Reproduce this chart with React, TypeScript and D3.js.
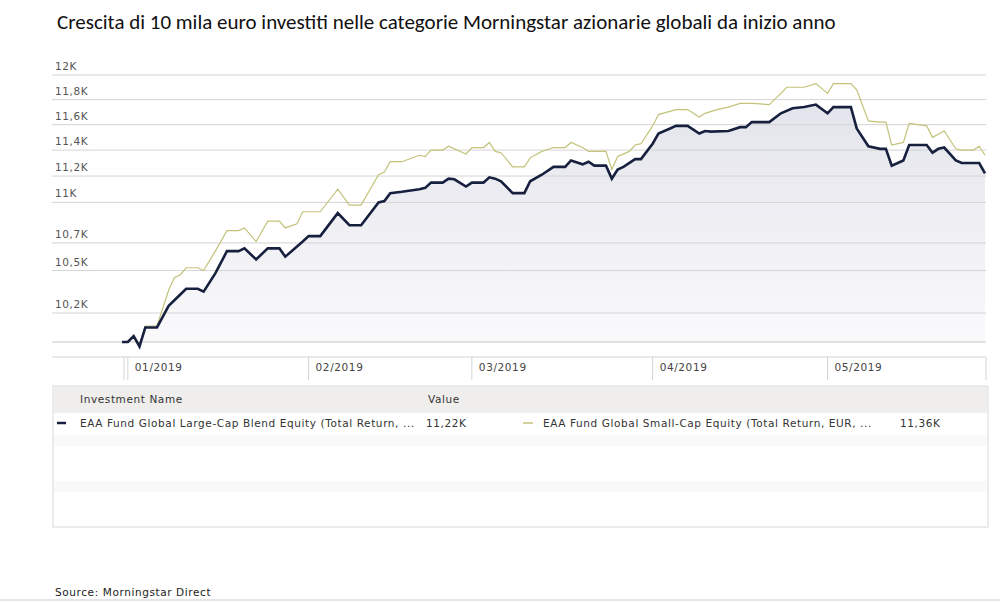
import React from 'react';
import * as d3 from 'd3';

// days since 2019-01-01
const largeDays = [-1, 0, 1, 2, 3, 5, 7, 9, 10, 12, 13, 15, 17, 19, 20, 22, 24, 26, 27, 30, 31, 33, 36, 38, 40, 43, 44, 45, 47, 50, 51, 52, 54, 55, 56, 58, 59, 61, 62, 63, 64, 66, 68, 69, 71, 73, 75, 76, 78, 79, 80, 82, 83, 84, 85, 87, 88, 90, 91, 93, 94, 96, 98, 99, 100, 103, 105, 106, 107, 110, 112, 114, 116, 118, 120, 121, 124, 125, 127, 129, 130, 131, 133, 134, 137, 138, 139, 140, 142, 143, 146, 147];
const largeValues = [10000, 10000, 10040, 9970, 10100, 10100, 10250, 10330, 10370, 10370, 10350, 10480, 10640, 10640, 10660, 10580, 10660, 10660, 10600, 10710, 10750, 10750, 10920, 10830, 10830, 11000, 11010, 11070, 11080, 11100, 11110, 11150, 11150, 11180, 11175, 11120, 11150, 11150, 11190, 11180, 11160, 11070, 11070, 11160, 11210, 11270, 11270, 11320, 11290, 11310, 11280, 11280, 11180, 11250, 11270, 11330, 11330, 11450, 11530, 11570, 11590, 11590, 11530, 11550, 11545, 11550, 11580, 11580, 11620, 11620, 11690, 11730, 11740, 11760, 11690, 11740, 11740, 11570, 11430, 11410, 11410, 11280, 11320, 11440, 11440, 11380, 11410, 11420, 11320, 11300, 11300, 11220];

const smallDays = [-1, 0, 1, 2, 3, 5, 7, 8, 9, 10, 12, 13, 15, 17, 19, 20, 22, 24, 26, 27, 29, 30, 33, 36, 38, 40, 43, 44, 45, 47, 50, 51, 52, 54, 55, 58, 59, 61, 62, 63, 64, 66, 68, 69, 71, 73, 75, 76, 78, 79, 82, 83, 84, 86, 87, 88, 90, 91, 94, 96, 98, 99, 101, 103, 105, 107, 110, 112, 113, 116, 118, 120, 121, 124, 125, 127, 129, 130, 131, 133, 134, 137, 138, 140, 142, 143, 145, 146, 147];
const smallValues = [10000, 10000, 10040, 9980, 10110, 10110, 10360, 10450, 10470, 10520, 10520, 10500, 10640, 10790, 10790, 10810, 10710, 10860, 10860, 10810, 10840, 10930, 10930, 11100, 10980, 10980, 11210, 11230, 11310, 11310, 11360, 11350, 11400, 11400, 11430, 11370, 11420, 11420, 11460, 11390, 11380, 11270, 11270, 11340, 11390, 11420, 11420, 11460, 11420, 11390, 11390, 11250, 11350, 11390, 11440, 11450, 11590, 11680, 11720, 11720, 11660, 11690, 11720, 11740, 11770, 11770, 11760, 11850, 11900, 11900, 11930, 11850, 11930, 11930, 11880, 11630, 11620, 11620, 11440, 11460, 11610, 11590, 11500, 11550, 11410, 11400, 11400, 11430, 11360];

const yTicks = [10200, 10500, 10700, 11000, 11200, 11400, 11600, 11800, 12000];
const yTickLabels = ['10,2K', '10,5K', '10,7K', '11K', '11,2K', '11,4K', '11,6K', '11,8K', '12K'];
const monthTicks = ['2019-01-01', '2019-02-01', '2019-03-01', '2019-04-01', '2019-05-01'];
const monthLabels = ['01/2019', '02/2019', '03/2019', '04/2019', '05/2019'];

const seriesNames = [
  'EAA Fund Global Large-Cap Blend Equity (Total Return, ...',
  'EAA Fund Global Small-Cap Equity (Total Return, EUR, ...',
];
const seriesLast = ['11,22K', '11,36K'];

const base = new Date(2019, 0, 1);
const toDate = (d: number) => d3.timeDay.offset(base, d);

const App: React.FC = () => {
  const left = 52;
  const right = 986;
  const x = d3.scaleTime().domain([new Date(2018, 11, 31), new Date(2019, 4, 28)]).range([122, 985]);
  const y = d3.scaleLog().domain([10000, 12000]).range([342, 75]);

  const large = largeDays.map((d, i) => ({ date: toDate(d), v: largeValues[i] }));
  const small = smallDays.map((d, i) => ({ date: toDate(d), v: smallValues[i] }));

  const line = d3.line<{ date: Date; v: number }>().x((p) => x(p.date)).y((p) => y(p.v));
  const area = d3
    .area<{ date: Date; v: number }>()
    .x((p) => x(p.date))
    .y0(342)
    .y1((p) => y(p.v));

  const txt = { fontFamily: '"DejaVu Sans", Verdana, sans-serif', fontSize: 10.5, letterSpacing: 0.6 };

  return (
    <svg width={1000} height={602} style={{ position: 'absolute', left: 0, top: 0, background: '#fff' }}>
      <defs>
        <linearGradient id="fillg" x1="0" y1="0" x2="0" y2="1">
          <stop offset="0%" stopColor="#e4e5ec" />
          <stop offset="100%" stopColor="#fafafc" />
        </linearGradient>
      </defs>
      <text x={57} y={29} fontFamily="Carlito, Lato, 'Open Sans', sans-serif" fontSize={21} fill="#111">
        Crescita di 10 mila euro investiti nelle categorie Morningstar azionarie globali da inizio anno
      </text>

      <path d={area(large) ?? ''} fill="url(#fillg)" />

      {yTicks.map((t, i) => (
        <g key={t}>
          <line x1={left} x2={right} y1={y(t)} y2={y(t)} stroke="#d4d4d4" />
          <text x={55} y={y(t) - 5} {...txt} fill="#555">
            {yTickLabels[i]}
          </text>
        </g>
      ))}
      <line x1={left} x2={right} y1={342} y2={342} stroke="#c8c8c8" />
      <line x1={left} x2={right} y1={357} y2={357} stroke="#d4d4d4" />
      <line x1={124} x2={124} y1={357} y2={380} stroke="#d4d4d4" />
      <line x1={right} x2={right} y1={357} y2={380} stroke="#d4d4d4" />
      {monthTicks.map((m, i) => {
        const px = x(new Date(m + 'T00:00:00'));
        return (
          <g key={m}>
            <line x1={px} x2={px} y1={357} y2={380} stroke="#d4d4d4" />
            <text x={px + 7} y={371} {...txt} fill="#444">
              {monthLabels[i]}
            </text>
          </g>
        );
      })}

      <path d={line(small) ?? ''} fill="none" stroke="#c3c27a" strokeWidth={1.2} />
      <path d={line(large) ?? ''} fill="none" stroke="#17203f" strokeWidth={2.6} />

      {/* legend table */}
      <rect x={53} y={386} width={935} height={141} fill="#fff" stroke="#d8d8d8" />
      <rect x={54} y={387} width={933} height={26} fill="#efeeec" />
      {[0, 1, 2, 3].map((r) => (
        <rect key={r} x={54} y={435 + r * 23} width={933} height={11} fill={r % 2 ? '#fff' : '#f9f9f9'} />
      ))}
      <text x={80} y={403} {...txt} fill="#333">Investment Name</text>
      <text x={428} y={403} {...txt} fill="#333">Value</text>
      <line x1={57} x2={66} y1={423} y2={423} stroke="#17203f" strokeWidth={2.5} />
      <text x={80} y={427} {...txt} fill="#333">{seriesNames[0]}</text>
      <text x={426} y={427} {...txt} fill="#333">{seriesLast[0]}</text>
      <line x1={523} x2={533} y1={423} y2={423} stroke="#c3c27a" strokeWidth={1.5} />
      <text x={543} y={427} {...txt} fill="#333">{seriesNames[1]}</text>
      <text x={900} y={427} {...txt} fill="#333">{seriesLast[1]}</text>

      <text x={55} y={596} {...txt} fill="#222">Source: Morningstar Direct</text>
      <line x1={0} x2={1000} y1={600} y2={600} stroke="#ccc" />
    </svg>
  );
};

export default App;
